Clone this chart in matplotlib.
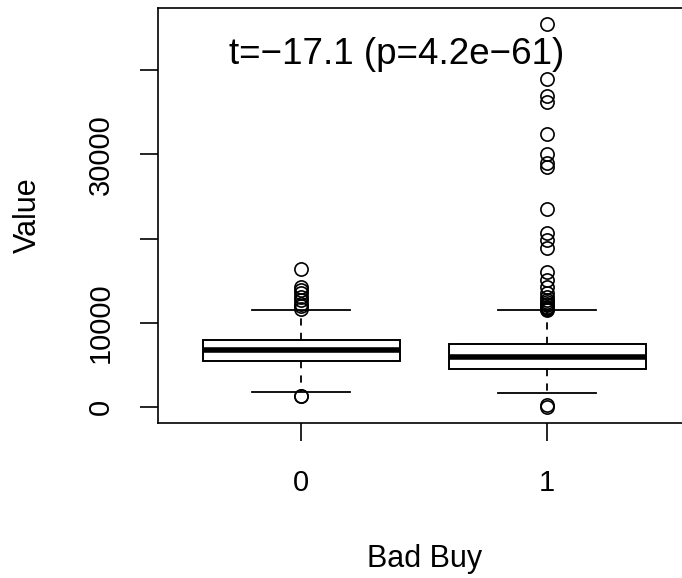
import matplotlib
matplotlib.use('Agg')
import matplotlib.pyplot as plt

plt.rcParams['font.family'] = ['Liberation Sans', 'DejaVu Sans']

# box statistics
groups = ['0', '1']
q1 = [5500, 4600]
med = [6800, 6000]
q3 = [8000, 7500]
whislo = [1800, 1700]
whishi = [11500, 11500]
fliers_0 = [16400, 14300, 13900, 13500, 13100, 12700, 12300, 12000, 11700,
            1400, 1300]
fliers_1 = [45500, 39000, 36900, 36200, 32400, 30100, 29000, 28500, 23500,
            20700, 19900, 18900, 16000, 15100, 14300, 13600, 13100, 12700,
            12500, 12300, 12100, 11900, 11800, 11700, 11600, 240, 0]
yticks = [0, 10000, 20000, 30000, 40000]
ytick_labels = ['0', '10000', '', '30000', '']
annotation = 't=\u221217.1 (p=4.2e\u221261)'

stats = []
for i, name in enumerate(groups):
    stats.append(dict(label=name, q1=q1[i], med=med[i], q3=q3[i],
                      whislo=whislo[i], whishi=whishi[i],
                      fliers=[fliers_0, fliers_1][i]))

fig = plt.figure(figsize=(6.82, 5.78), dpi=100)
ax = fig.add_axes([158.3 / 682, 155 / 578, 531.7 / 682, 415 / 578])

ax.bxp(stats, positions=[1, 2], widths=0.8, capwidths=0.4,
       patch_artist=True,
       boxprops=dict(facecolor='white', edgecolor='black', linewidth=1.4),
       medianprops=dict(color='black', linewidth=4.0, solid_capstyle='butt'),
       whiskerprops=dict(color='black', linewidth=1.3, linestyle=(0, (4, 4))),
       capprops=dict(color='black', linewidth=1.3),
       flierprops=dict(marker='o', markerfacecolor='none',
                       markeredgecolor='black', markersize=9.5,
                       markeredgewidth=1.2))

ax.set_xlim(0.42, 2.58)
ax.set_ylim(-1862, 47367)
ax.set_xticks([1, 2])
ax.set_xticklabels(groups)
ax.set_yticks(yticks)
ax.set_yticklabels(ytick_labels, rotation=90, va='center')

ax.tick_params(axis='both', direction='out', length=13, width=1.2,
               labelsize=21, color='black')
ax.tick_params(axis='x', pad=20)
ax.tick_params(axis='y', pad=18)
for s in ax.spines.values():
    s.set_linewidth(1.2)

ax.set_xlabel('Bad Buy', fontsize=22, labelpad=34)
ax.set_ylabel('Value', fontsize=22, labelpad=32)

ax.text(1.39, 41800, annotation, fontsize=26.5, ha='center', va='center')

fig.savefig('out.png', dpi=100)
